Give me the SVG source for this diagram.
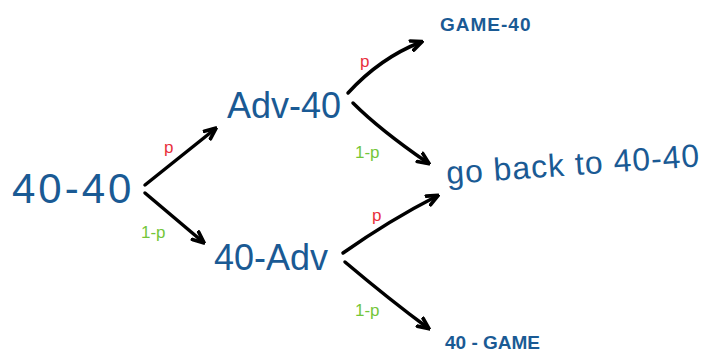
<svg xmlns="http://www.w3.org/2000/svg" width="710" height="354" viewBox="0 0 710 354">
<defs>
<marker id="ah" viewBox="0 0 10 10" refX="8" refY="5" markerWidth="4" markerHeight="4" orient="auto" markerUnits="strokeWidth">
<path d="M1,1.5 L9,5 L1,8.5" fill="none" stroke="#000" stroke-width="2.6" stroke-linecap="round" stroke-linejoin="round"/>
</marker>
<style>
.n{fill:#1a5a94;font-family:"Liberation Sans",Arial,sans-serif}
.c{fill:none;stroke:#000;stroke-width:3.5;stroke-linecap:round;marker-end:url(#ah)}
.p{fill:#e8303c;font-family:"Liberation Sans",Arial,sans-serif;font-size:17px}
.q{fill:#74c63a;font-family:"Liberation Sans",Arial,sans-serif;font-size:17px}
</style>
</defs>
<rect width="710" height="354" fill="#fff"/>
<g id="n4040"><text class="n" x="12" y="203" font-size="42" letter-spacing="3">40-40</text></g>
<g id="nadv40"><text class="n" x="227" y="118" font-size="36">Adv-40</text></g>
<g id="n40adv"><text class="n" x="214" y="270" font-size="36">40-Adv</text></g>
<g id="ngame40"><text class="n" x="440" y="31" font-size="19" font-weight="bold" letter-spacing="1">GAME-40</text></g>
<g id="nback"><text class="n" x="447" y="184" font-size="32" letter-spacing="1" transform="rotate(-4 447 184)">go back to 40-40</text></g>
<g id="n40game"><text class="n" x="445" y="349" font-size="19" font-weight="bold">40 - GAME</text></g>
<g id="connectors">
<path class="c" d="M145,185 L215,129"/>
<path class="c" d="M145,193 L203,242"/>
<path class="c" d="M348,93 Q380,58 421,42"/>
<path class="c" d="M353,103 Q380,130 428,163"/>
<path class="c" d="M343,253 Q390,220 437,196"/>
<path class="c" d="M345,262 Q390,300 428,328"/>
<text class="p" x="164" y="153">p</text>
<text class="q" x="141" y="238">1-p</text>
<text class="p" x="360" y="67">p</text>
<text class="q" x="355" y="158">1-p</text>
<text class="p" x="372" y="221">p</text>
<text class="q" x="355" y="316">1-p</text>
</g>
</svg>
